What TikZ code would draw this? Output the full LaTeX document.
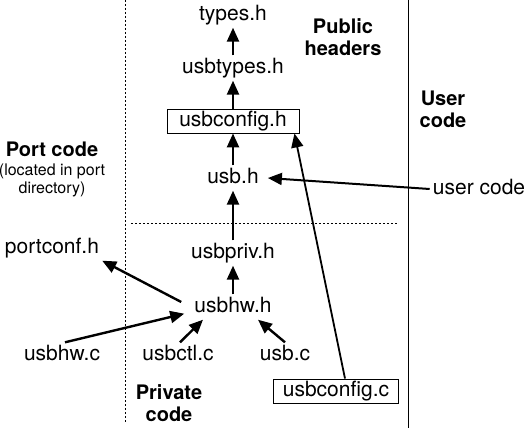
\documentclass[tikz,border=0pt]{standalone}
\usepackage{fontspec}
\setmainfont{TeX Gyre Heros}
\usetikzlibrary{arrows.meta,positioning}

\begin{document}
\begin{tikzpicture}[x=1pt,y=-1pt,
  font=\fontsize{21}{25}\selectfont,
  file/.style={text height=15pt,text depth=4pt,inner sep=3pt},
  filebox/.style={file,draw,line width=0.9pt,inner sep=2.5pt,minimum height=24pt},
  area/.style={font=\fontsize{20}{22}\selectfont\bfseries,align=center},
  dep/.style={line width=2.4pt,-{Triangle[length=14pt,width=12pt]}},
  divider/.style={line width=0.9pt,dash pattern=on 2pt off 2pt}]
\useasboundingbox (0,0) rectangle (527,436);
% public headers
\node[file] (types) at (233,15) {types.h};
\node[file] (usbtypes) at (233,68) {usbtypes.h};
\node[filebox,minimum width=132pt] (usbconfigh) at (233,121) {usbconfig.h};
\node[file] (usbh) at (233,178) {usb.h};
% private code
\node[file] (usbpriv) at (233,253) {usbpriv.h};
\node[file] (usbhwh) at (233,307) {usbhw.h};
\node[file] (usbctl) at (178,355) {usbctl.c};
\node[file] (usbc) at (285,355) {usb.c};
\node[filebox,minimum width=125pt] (usbconfigc) at (336,391) {usbconfig.c};
% port code
\node[file] (portconf) at (52,248) {portconf.h};
\node[file] (usbhwc) at (62,355) {usbhw.c};
% user code
\node[file] (usercode) at (479,189) {user code};
% region labels
\node[area] (public) at (343,37) {Public\\headers};
\node[area] (private) at (169,403) {Private\\code};
\node[area] (user) at (443,109) {User\\code};
\node[area] (port) at (52,149) {Port code};
\node[font=\fontsize{16}{18}\selectfont,align=center] (portnote) at (52,180) {(located in port\\directory)};
% dividers
\draw[divider] (125,0) -- (125,422);
\draw[divider] (131,223) -- (397,223);
\draw[line width=0.9pt] (408,0) -- (408,428);
% includes
\draw[dep] (usbtypes.north) -- (types.south);
\draw[dep] (usbconfigh.north) -- (usbtypes.south);
\draw[dep] (usbh.north) -- (usbconfigh.south);
\draw[dep] (usbpriv.north) -- (usbh.south);
\draw[dep] (usbhwh.north) -- (usbpriv.south);
\draw[dep] ([shift={(-10,-5)}]usbhwh.west) -- (portconf.south east);
\draw[dep] ([xshift=3pt]usbhwc.north) -- ([shift={(-7,-6)}]usbhwh.south west);
\draw[dep] ([xshift=2pt]usbctl.north) -- ([xshift=-30pt]usbhwh.south);
\draw[dep] (usbc.north) -- ([xshift=25pt]usbhwh.south);
\draw[dep,line width=1.8pt] ([xshift=9pt]usbconfigc.north) -- ([xshift=-5pt]usbconfigh.south east);
\draw[dep,line width=2pt] (usercode.west) -- ([xshift=6pt]usbh.east);
\end{tikzpicture}
\end{document}
